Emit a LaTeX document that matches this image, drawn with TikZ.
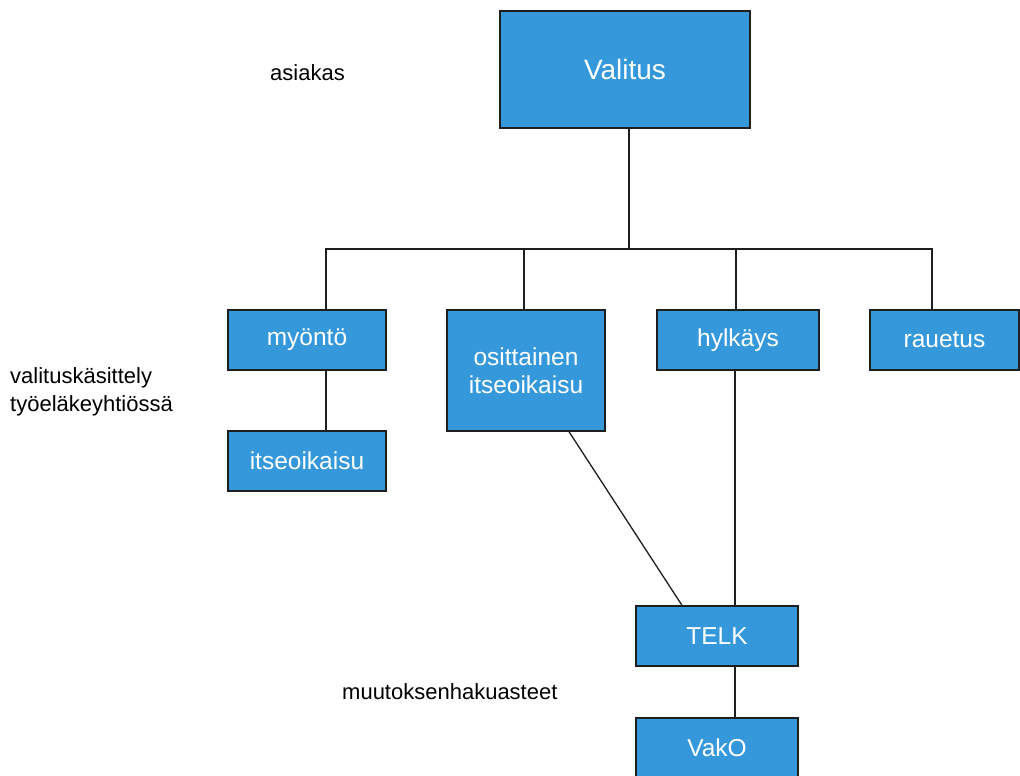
\documentclass[tikz,border=0pt]{standalone}
\usepackage{fontspec}
\setmainfont{Liberation Sans}
\usepackage{tikz}
\usetikzlibrary{positioning}

\definecolor{boxblue}{HTML}{3598DB}
\definecolor{edgegray}{HTML}{1E1E1E}

\tikzset{
  box/.style={draw=edgegray, line width=1.3pt, fill=boxblue, text=white,
    inner sep=0pt, font=\fontsize{24.5}{28}\selectfont, align=center},
  lbl/.style={inner sep=0pt, font=\fontsize{22}{28}\selectfont, align=left},
  conn/.style={draw=edgegray, line width=1.3pt}
}

\begin{document}
\begin{tikzpicture}[x=1pt, y=-1pt]
        \useasboundingbox (0,0) rectangle (1020,776);

        \node[box, minimum width=250pt, minimum height=117pt, font=\fontsize{28}{32}\selectfont] (valitus) at (625,69.5) {Valitus};
        \node[box, minimum width=158pt, minimum height=60pt] (myonto) at (307,340) {myöntö};
        \node[box, minimum width=158pt, minimum height=121pt] (osittainen) at (526,370.5) {osittainen\\itseoikaisu};
        \node[box, minimum width=162pt, minimum height=60pt] (hylkays) at (738,340) {hylkäys};
        \node[box, minimum width=149pt, minimum height=60pt] (rauetus) at (944.5,340) {rauetus};
        \node[box, minimum width=158pt, minimum height=60pt] (itseoikaisu) at (307,461) {itseoikaisu};
        \node[box, minimum width=162pt, minimum height=60pt] (telk) at (717,636) {TELK};
        \node[box, minimum width=162pt, minimum height=60pt] (vako) at (717,748) {VakO};

        \node[lbl, anchor=west] (asiakas) at (270,73) {asiakas};
        \node[lbl, anchor=west] (kasittely) at (10,392) {valituskäsittely\\työeläkeyhtiössä};
        \node[lbl, anchor=west] (asteet) at (342,692) {muutoksenhakuasteet};

        \coordinate (bus) at (629,249);

        \draw[conn] ([xshift=4pt]valitus.south) -- (bus);
        \draw[conn] ([xshift=19pt]myonto.north) |- (bus) -| ([xshift=-12.5pt]rauetus.north);
        \draw[conn] ([xshift=-2pt]osittainen.north) -- ++(0,-61);
        \draw[conn] ([xshift=-2pt]hylkays.north) -- ++(0,-61);
        \draw[conn] ([xshift=19pt]myonto.south) -- ([xshift=19pt]itseoikaisu.north);
        \draw[conn] ([xshift=43pt]osittainen.south) -- ([xshift=-35pt]telk.north);
        \draw[conn] ([xshift=-3pt]hylkays.south) -- ([xshift=18pt]telk.north);
        \draw[conn] ([xshift=18pt]telk.south) -- ([xshift=18pt]vako.north);
    \end{tikzpicture}
\end{document}
